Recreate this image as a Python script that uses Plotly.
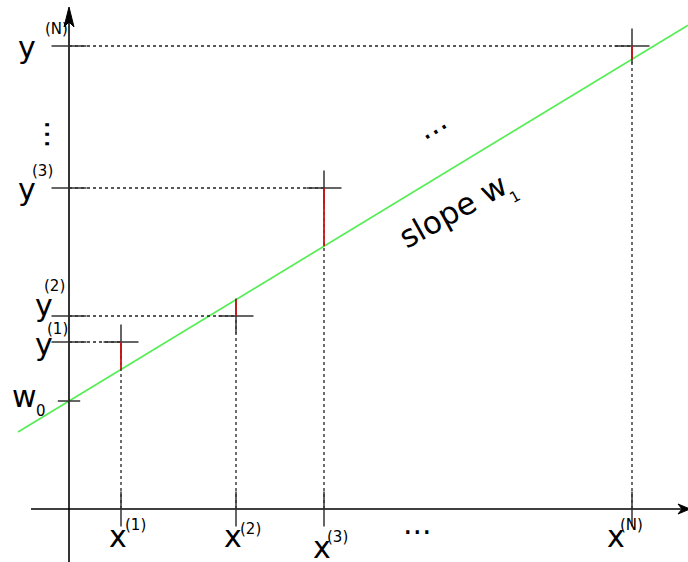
import plotly.graph_objects as go

# Regression model: intercept w0 and slope w1
w0 = 108
w1 = 0.607

# Observed samples (x^(i), y^(i))
x_pts = [52, 167, 255, 563]
y_pts = [167, 193, 321, 463]
idx_labels = ["(1)", "(2)", "(3)", "(N)"]

# Fitted line span
line_x = [-51, 619]

FONT = "DejaVu Sans"
INK = "#222222"

fig = go.Figure()

# fitted line
fig.add_trace(go.Scatter(
    x=line_x, y=[w0 + w1 * v for v in line_x], mode="lines",
    line=dict(color="#55ee55", width=1.7), hoverinfo="skip"))

# dashed guides from each sample to both axes
for xv, yv in zip(x_pts, y_pts):
    fig.add_trace(go.Scatter(x=[0, xv], y=[yv, yv], mode="lines",
                             line=dict(color=INK, width=1.3, dash="3px,3px"), hoverinfo="skip"))
    fig.add_trace(go.Scatter(x=[xv, xv], y=[0, yv], mode="lines",
                             line=dict(color=INK, width=1.3, dash="3px,3px"), hoverinfo="skip"))

# axes
fig.add_trace(go.Scatter(x=[0, 0], y=[-53, 496], mode="lines",
                         line=dict(color="black", width=1.6), hoverinfo="skip"))
fig.add_trace(go.Scatter(x=[-38, 612], y=[0, 0], mode="lines",
                         line=dict(color="black", width=1.6), hoverinfo="skip"))

# axis ticks
fig.add_trace(go.Scatter(x=[0] * len(y_pts), y=y_pts, mode="markers", hoverinfo="skip",
                         marker=dict(symbol="line-ew", size=25, line=dict(color="#333333", width=1.5))))
fig.add_trace(go.Scatter(x=[0], y=[w0], mode="markers", hoverinfo="skip",
                         marker=dict(symbol="line-ew", size=16, line=dict(color="#333333", width=1.5))))
fig.add_trace(go.Scatter(x=x_pts, y=[0] * len(x_pts), mode="markers", hoverinfo="skip",
                         marker=dict(symbol="line-ns", size=25, line=dict(color="#333333", width=1.5))))
# sample crosses
fig.add_trace(go.Scatter(x=x_pts, y=y_pts, mode="markers", hoverinfo="skip",
                         marker=dict(symbol="cross-thin", size=25, line=dict(color="#333333", width=1.5))))

# residuals, drawn over the crosses
for xv, yv in zip(x_pts, y_pts):
    fig.add_trace(go.Scatter(x=[xv, xv], y=[yv, w0 + w1 * xv], mode="lines",
                             line=dict(color="#cc1515", width=1.8), hoverinfo="skip"))

annotations = []


def label(x, y, text, size, dx, dy, angle=0):
    annotations.append(dict(x=x, y=y, xref="x", yref="y", text=text, showarrow=False,
                            xanchor="center", yanchor="middle", xshift=dx, yshift=dy,
                            textangle=angle, font=dict(family=FONT, size=size, color="black")))


# y labels
y_main_off = [(-25.5, -2.6), (-25.5, 10.4), (-42.5, -1.6), (-42.5, -1.6)]
y_sup_off = [(-12, 13), (-15, 30), (-26.5, 17), (-13, 17)]
for yv, lab, mo, so in zip(y_pts, idx_labels, y_main_off, y_sup_off):
    label(0, yv, "y", 30, *mo)
    label(0, yv, lab, 15, *so)

# x labels
x_main_off = [(-3.5, -27.6), (-3.5, -27.6), (-2.5, -38.6), (-16.5, -27.6)]
x_sup_off = [(14, -16), (14, -19.5), (13.5, -27.5), (-0.5, -15.5)]
for xv, lab, mo, so in zip(x_pts, idx_labels, x_main_off, x_sup_off):
    label(xv, 0, "x", 30, *mo)
    label(xv, 0, lab, 15, *so)

# intercept label
label(0, w0, "w", 30, -44.5, 4.4)
label(0, w0, "0", 15, -28, -10)

# ellipses
label(348.5, -14, "...", 30, 0, 0)
label(362.3, 384.8, "...", 30, 0, 0, -31)
label(-31.4, 375, "...", 30, 0, 0, -90)

# slope label
label(383.5, 298, "slope w", 31, 0, 0, -29)
label(445.5, 312.5, "1", 15, 0, 0, -29)

# arrowheads at the axis ends
shapes = [
    dict(type="path", xref="x", yref="y", xsizemode="pixel", ysizemode="pixel",
         xanchor=0, yanchor=502, path="M0,0 L5,-20 L0,-15 L-5,-20 Z",
         fillcolor="black", line=dict(color="black", width=1)),
    dict(type="path", xref="x", yref="y", xsizemode="pixel", ysizemode="pixel",
         xanchor=621, yanchor=0, path="M0,0 L-12,5 L-8,0 L-12,-5 Z",
         fillcolor="black", line=dict(color="black", width=1)),
]

fig.update_layout(
    width=688, height=562, margin=dict(l=0, r=0, t=0, b=0),
    paper_bgcolor="white", plot_bgcolor="white", showlegend=False,
    xaxis=dict(range=[-69, 619], visible=False, fixedrange=True),
    yaxis=dict(range=[-53, 509], visible=False, fixedrange=True),
    annotations=annotations, shapes=shapes,
)

fig.write_html("out.html")
